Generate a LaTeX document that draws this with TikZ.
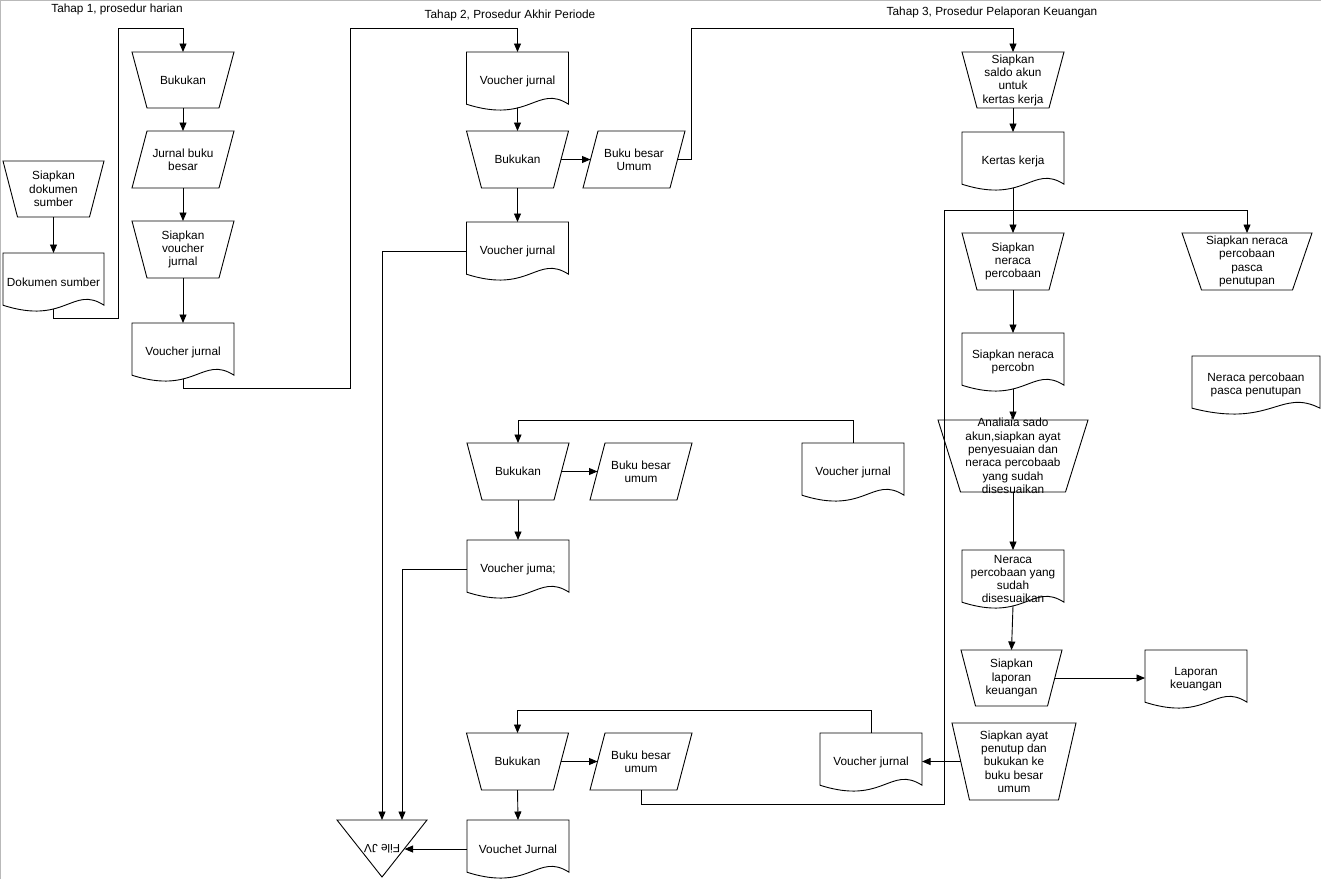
\documentclass[tikz,border=0pt]{standalone}
\usepackage{fontspec}
\setmainfont{Liberation Sans}
\usepackage{graphicx}
\usetikzlibrary{arrows.meta,calc}
\newcommand\dgfont{\fontsize{11.8}{13.3}\selectfont}
% manual operation (wide top)
\newcommand\manout[2]{%
  \draw[shapeline] (#1.north west) -- (#1.north east) -- ([xshift=-#2pt]#1.south east) -- ([xshift=#2pt]#1.south west) -- cycle;
  \coordinate (#1-l) at ([xshift={0.5*#2}]#1.west);
  \coordinate (#1-r) at ([xshift={-0.5*#2}]#1.east);}
% parallelogram (data)
\newcommand\parout[2]{%
  \draw[shapeline] ([xshift=#2pt]#1.north west) -- (#1.north east) -- ([xshift=-#2pt]#1.south east) -- (#1.south west) -- cycle;
  \coordinate (#1-l) at ([xshift={0.5*#2}]#1.west);
  \coordinate (#1-r) at ([xshift={-0.5*#2}]#1.east);}
% document
\newcommand\docout[1]{%
  \draw[shapeline] let \p1=(#1.north west), \p2=(#1.south east), \n1={\x2-\x1}, \n2={\y1-\y2} in
    (\p1) -- (\x2,\y1) -- (\x2,{\y1-0.9*\n2})
    .. controls ({\x1+0.69*\n1},{\y1-0.9*\n2+0.35*\n2}) and ({\x1+0.62*\n1},{\y1-0.9*\n2-0.35*\n2}) ..
    (\x1,{\y1-0.9*\n2}) -- cycle;
  \coordinate (#1-b) at ($(#1.north)!0.96!(#1.south)$);}
% inverted triangle
\newcommand\triout[1]{%
  \draw[shapeline] (#1.north west) -- (#1.north east) -- (#1.south) -- cycle;
  \coordinate (#1-r) at ($(#1.north east)!0.5!(#1.south)$);}
\begin{document}
\begin{tikzpicture}[x=1pt,y=-1pt,
  box/.style={rectangle, inner sep=0pt, outer sep=0pt, align=center, font=\dgfont},
  mo/.style={box, minimum width=102pt, minimum height=56pt},
  io/.style={box, minimum width=102pt, minimum height=57pt},
  doc/.style={box, minimum width=102pt, minimum height=58pt},
  tri/.style={box, minimum width=90pt, minimum height=57pt},
  shapeline/.style={line width=0.9pt, black},
  arr/.style={line width=0.9pt, -{Triangle[length=8.5pt,width=7pt]}},
  wire/.style={line width=0.9pt},
  title/.style={font=\dgfont, inner sep=0pt}]
\useasboundingbox (0,0) rectangle (1321,879);
\draw[gray!55, line width=1.2pt] (0.6,879) -- (0.6,0.6) -- (1321,0.6);

% titles
\node[title] (t1) at (117,9) {Tahap 1, prosedur harian};
\node[title] (t2) at (510,15) {Tahap 2, Prosedur Akhir Periode};
\node[title] (t3) at (992,12) {Tahap 3, Prosedur Pelaporan Keuangan};

% stage 1
\node[mo, minimum width=101pt] (sds) at (53.5,189) {Siapkan\\dokumen\\sumber};
\node[doc, minimum width=101pt] (ds) at (53.5,282) {Dokumen sumber};
\node[mo] (bk1) at (183,80) {Bukukan};
\node[io] (jbb) at (183,159.5) {Jurnal buku\\besar};
\node[mo, minimum height=57pt] (svj) at (183,249.5) {Siapkan\\voucher\\jurnal};
\node[doc] (vj1) at (183,352) {Voucher jurnal};

% stage 2
\node[doc] (vj2a) at (517.5,81) {Voucher jurnal};
\node[mo, minimum height=57pt] (bk2) at (517.5,159.5) {Bukukan};
\node[io] (bbu1) at (634,159.5) {Buku besar\\Umum};
\node[doc] (vj2b) at (517.5,251) {Voucher jurnal};

\node[mo, minimum height=57pt] (bk3) at (518,471.5) {Bukukan};
\node[io] (bbu2) at (641,471.5) {Buku besar\\umum};
\node[doc] (vjm) at (853,472) {Voucher jurnal};
\node[doc] (vjma) at (518,569) {Voucher juma;};

\node[mo, minimum height=57pt] (bk4) at (517.5,761.5) {Bukukan};
\node[io] (bbu3) at (641,761.5) {Buku besar\\umum};
\node[doc] (vjb) at (871,762) {Voucher jurnal};
\node[doc] (vjc) at (518,849) {Vouchet Jurnal};
\node[tri] (fj) at (382,848.5) {\rotatebox{180}{File JV}};

% stage 3
\node[mo] (ssa) at (1013,80) {Siapkan\\saldo akun\\untuk\\kertas kerja};
\node[doc] (kk) at (1013,161) {Kertas kerja};
\node[mo, minimum height=57pt] (snp) at (1013,261.5) {Siapkan\\neraca\\percobaan};
\node[mo, minimum width=130pt, minimum height=57pt] (snpp) at (1247,261.5) {Siapkan neraca\\percobaan\\pasca\\penutupan};
\node[doc] (snp2) at (1013,362) {Siapkan neraca\\percobn};
\node[doc, minimum width=128pt] (npp) at (1256,385) {Neraca percobaan\\pasca penutupan};
\node[mo, minimum width=150pt, minimum height=72pt, outer ysep=-1.6pt] (ana) at (1013,456) {Analiaia sado\\akun,siapkan ayat\\penyesuaian dan\\neraca percobaab\\yang sudah\\disesuaikan};
\node[doc] (npd) at (1013,579) {Neraca\\percobaan yang\\sudah\\disesuaikan};
\node[mo, minimum width=101pt] (slk) at (1011.5,678) {Siapkan\\laporan\\keuangan};
\node[doc] (lk) at (1196,679) {Laporan\\keuangan};
\node[mo, minimum width=124pt, minimum height=77pt] (sap) at (1014,761.5) {Siapkan ayat\\penutup dan\\bukukan ke\\buku besar\\umum};

% outlines
\manout{sds}{14.5}
\docout{ds}
\manout{bk1}{15}
\parout{jbb}{15}
\manout{svj}{15}
\docout{vj1}
\docout{vj2a}
\manout{bk2}{15}
\parout{bbu1}{15}
\docout{vj2b}
\manout{bk3}{15}
\parout{bbu2}{15}
\docout{vjm}
\docout{vjma}
\manout{bk4}{15}
\parout{bbu3}{15}
\docout{vjb}
\docout{vjc}
\triout{fj}
\manout{ssa}{15}
\docout{kk}
\manout{snp}{15}
\manout{snpp}{19.5}
\docout{snp2}
\docout{npp}
\manout{ana}{22.5}
\docout{npd}
\manout{slk}{14.5}
\docout{lk}
\manout{sap}{17.5}

% connectors stage 1
\draw[arr] (sds.south) -- (ds.north);
\draw[arr] (ds-b) |- (118,318) -- (118,28) -| (bk1.north);
\draw[arr] (bk1.south) -- (jbb.north);
\draw[arr] (jbb.south) -- (svj.north);
\draw[arr] (svj.south) -- (vj1.north);
\draw[arr] (vj1-b) |- (350,388) -- (350,28) -| (vj2a.north);

% stage 2
\draw[arr] (vj2a-b) -- (bk2.north);
\draw[arr] (bk2-r) -- (bbu1-l);
\draw[arr] (bbu1-r) -| (691,28) -| (ssa.north);
\draw[arr] (bk2.south) -- (vj2b.north);
\draw[arr] (vj2b.west) -| (fj.north);
\draw[arr] (vjm.north) -- ++(0,-23) -| (bk3.north);
\draw[arr] (bk3-r) -- (bbu2-l);
\draw[arr] (bk3.south) -- (vjma.north);
\draw[arr] (vjma.west) -| ([xshift=20pt]fj.north);
\draw[arr] (vjb.north) -- ++(0,-23) -| (bk4.north);
\draw[arr] (bk4-r) -- (bbu3-l);
\draw[arr] (bk4.south) -- (vjc.north);
\draw[arr] (vjc.west) -- (vjc.west -| fj-r);

% stage 3
\draw[arr] (ssa.south) -- (kk.north);
\draw[arr] (kk-b) -- (snp.north);
\draw[arr] (bbu3.south) -- ++(0,14) -| (944,210) -| (snpp.north);
\draw[arr] (snp.south) -- (snp2.north);
\draw[arr] (snp2-b) -- (ana.north);
\draw[arr] (ana.south) -- (npd.north);
\draw[arr] (npd-b) -- (slk.north);
\draw[arr] (slk-r) -- (slk-r -| lk.west);
\draw[arr] (sap-l) -- (sap-l -| vjb.east);
\end{tikzpicture}
\end{document}
